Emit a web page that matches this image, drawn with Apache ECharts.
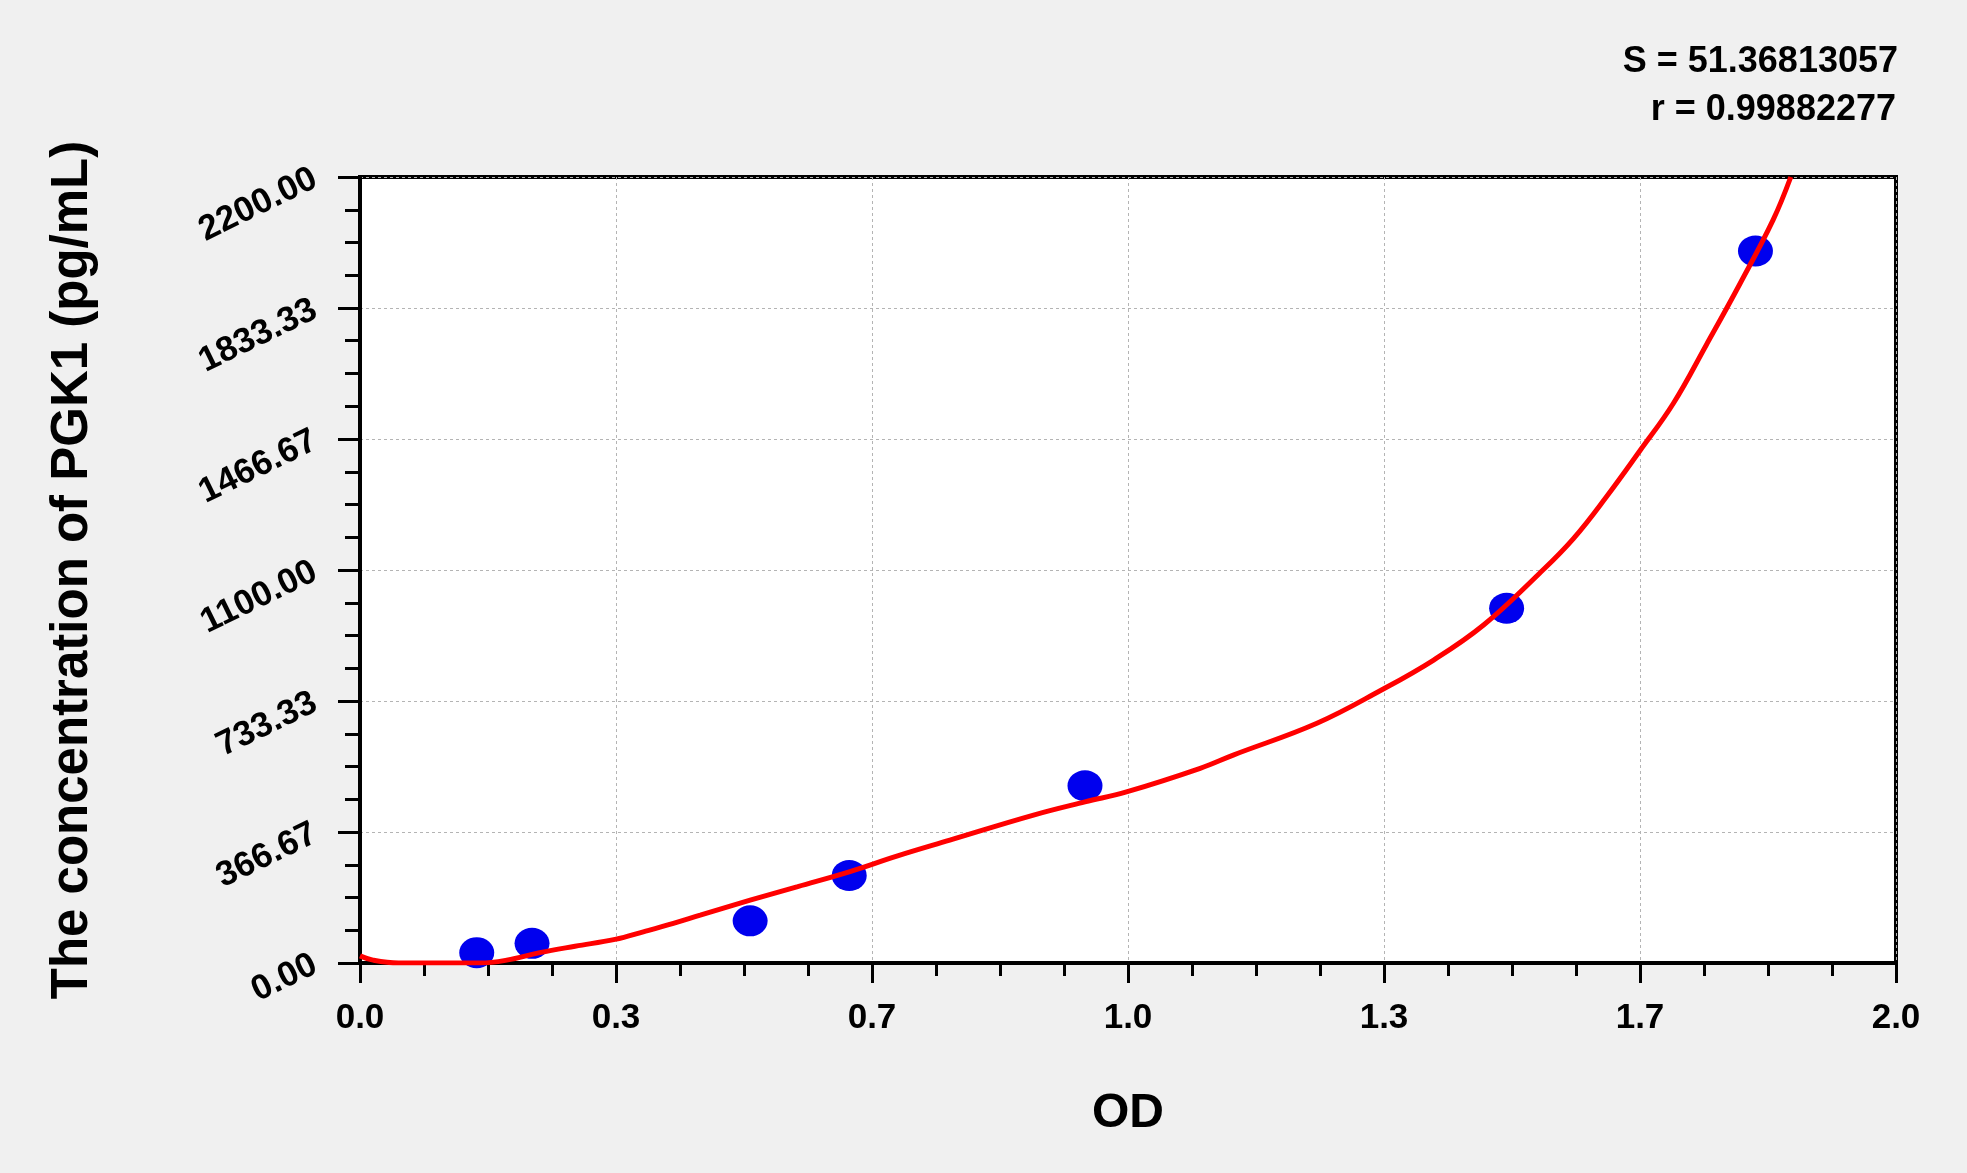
<!DOCTYPE html>
<html>
<head>
<meta charset="utf-8">
<title>PGK1 standard curve</title>
<script src="https://cdn.jsdelivr.net/npm/echarts@6/dist/echarts.min.js"></script>
<style>
    html, body { margin: 0; padding: 0; background: #f0f0f0; }
    #main { width: 1967px; height: 1173px; }
</style>
</head>
<body>
<div id="main"></div>
<script>
// standard points (OD, concentration)
var odPoints = [0.152, 0.224, 0.508, 0.637, 0.944, 1.493, 1.817];
var concPoints = [29, 55, 118, 245, 496, 993, 1993];

// fitted curve
var curveOd = [0, 0.017, 0.05, 0.10, 0.156, 0.191, 0.234, 0.28, 0.332, 0.37, 0.408, 0.443, 0.508, 0.57, 0.638, 0.70, 0.768, 0.877, 0.944, 0.998, 1.094, 1.137, 1.246, 1.330, 1.398, 1.463, 1.536, 1.580, 1.623, 1.667, 1.710, 1.753, 1.797, 1.840, 1.863];
var curveConc = [20, 8, 0, 0, 0, 8, 29, 47, 66, 88, 111, 134, 176, 214, 256, 300, 344, 414, 451, 479, 545, 582, 671, 764, 848, 946, 1091, 1188, 1305, 1435, 1566, 1730, 1902, 2080, 2200];

var xTickLabels = ['0.0', '0.3', '0.7', '1.0', '1.3', '1.7', '2.0'];
var yTickLabels = ['0.00', '366.67', '733.33', '1100.00', '1466.67', '1833.33', '2200.00'];

var statS = 'S = 51.36813057';
var statR = 'r = 0.99882277';

var myChart = echarts.init(document.getElementById('main'));

var pts = odPoints.map(function (v, i) { return [v, concPoints[i]]; });
var curve = curveOd.map(function (v, i) { return [v, curveConc[i]]; });

var font = 'Liberation Sans, Arial, sans-serif';
var tickStyle = { color: '#000', width: 3 };

var option = {
    backgroundColor: '#f0f0f0',
    animation: false,
    grid: {
        left: 360, top: 177, right: 71, bottom: 210,
        show: true,
        backgroundColor: '#fff',
        borderColor: '#000',
        borderWidth: 4
    },
    graphic: [{
        type: 'text', right: 69, top: 44,
        style: { text: statS, fill: '#000', font: 'bold 36px ' + font }
    }, {
        type: 'text', right: 71, top: 92,
        style: { text: statR, fill: '#000', font: 'bold 36px ' + font }
    }],
    xAxis: {
        type: 'value',
        min: 0, max: 2, interval: 2 / 6,
        name: 'OD',
        nameLocation: 'middle',
        nameGap: 127,
        nameTextStyle: { fontFamily: font, fontWeight: 'bold', fontSize: 48, color: '#000' },
        axisLine: { lineStyle: { color: '#000', width: 4 } },
        axisTick: { show: true, length: 20, lineStyle: tickStyle },
        minorTick: { show: true, splitNumber: 4, length: 13, lineStyle: tickStyle },
        axisLabel: {
            margin: 38, color: '#000', fontFamily: font, fontWeight: 'bold', fontSize: 35,
            formatter: function (v, i) { return xTickLabels[i]; }
        },
        splitLine: { show: true, lineStyle: { color: '#b4b4b4', type: [3, 3], width: 1 } }
    },
    yAxis: {
        type: 'value',
        min: 0, max: 2200, interval: 2200 / 6,
        name: 'The concentration of PGK1 (pg/mL)',
        nameLocation: 'middle',
        nameGap: 262,
        nameTextStyle: { fontFamily: font, fontWeight: 'bold', fontSize: 51, color: '#000' },
        axisLine: { lineStyle: { color: '#000', width: 4 } },
        axisTick: { show: true, length: 22, lineStyle: tickStyle },
        minorTick: { show: true, splitNumber: 4, length: 15, lineStyle: tickStyle },
        axisLabel: {
            margin: 45, rotate: 26, color: '#000', fontFamily: font, fontWeight: 'bold', fontSize: 35,
            formatter: function (v, i) { return yTickLabels[i]; }
        },
        splitLine: { show: true, lineStyle: { color: '#b4b4b4', type: [3, 3], width: 1 } }
    },
    series: [{
        type: 'scatter',
        data: pts,
        symbol: 'path://M0,50 A50,50 0 1,0 100,50 A50,50 0 1,0 0,50 Z',
        symbolSize: [35, 31],
        itemStyle: { color: '#0000ee', opacity: 1 },
        z: 3
    }, {
        type: 'line',
        data: curve,
        showSymbol: false,
        smooth: 0.4,
        lineStyle: { color: '#ff0000', width: 5 },
        z: 4
    }]
};

option && myChart.setOption(option);
</script>
</body>
</html>
